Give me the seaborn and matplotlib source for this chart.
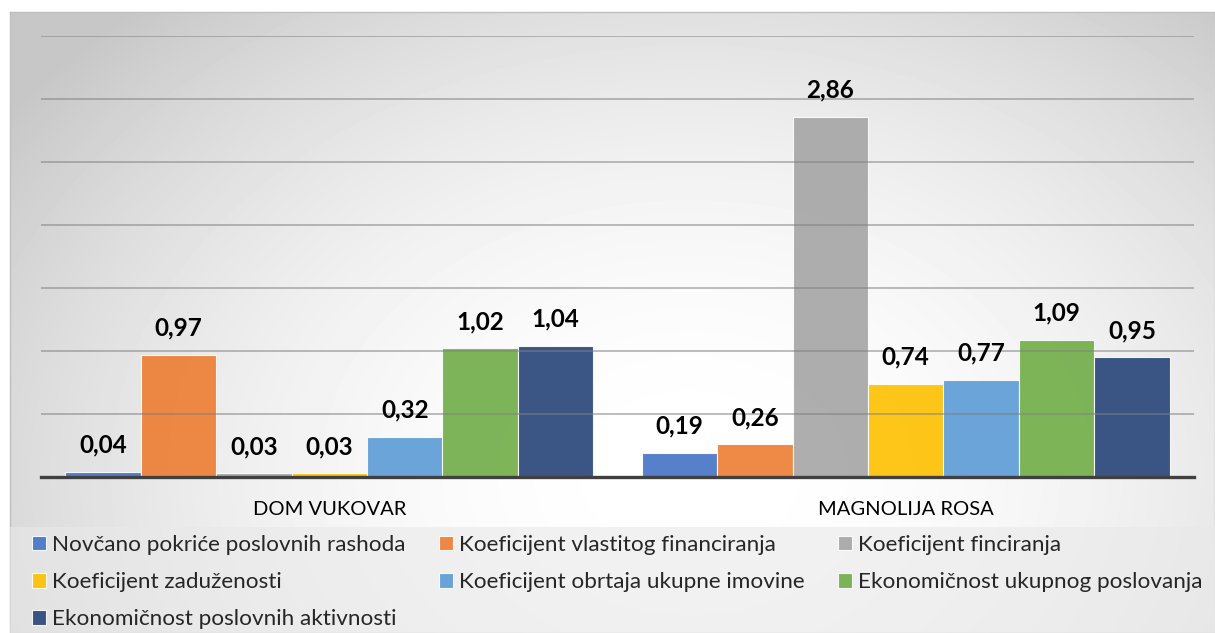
#-------------------------------------------
# Grouped bar chart of financial ratios
# for DOM VUKOVAR and MAGNOLIJA ROSA
#-------------------------------------------

import numpy as np
import pandas as pd
import matplotlib
matplotlib.use("Agg")
import matplotlib.pyplot as plt
import seaborn as sns
from matplotlib.patches import Rectangle

# Data

companies = ["DOM VUKOVAR", "MAGNOLIJA ROSA"]

series = ["Novčano pokriće poslovnih rashoda",
          "Koeficijent vlastitog financiranja",
          "Koeficijent finciranja",
          "Koeficijent zaduženosti",
          "Koeficijent obrtaja ukupne imovine",
          "Ekonomičnost ukupnog poslovanja",
          "Ekonomičnost poslovnih aktivnosti"]

dom_vukovar = [0.04, 0.97, 0.03, 0.03, 0.32, 1.02, 1.04]
magnolija_rosa = [0.19, 0.26, 2.86, 0.74, 0.77, 1.09, 0.95]

colours = ["#4472C4", "#ED7D31", "#A5A5A5", "#FFC000", "#5B9BD5", "#70AD47", "#264478"]

df = pd.DataFrame({
    "company": [companies[0]] * len(series) + [companies[1]] * len(series),
    "indicator": series + series,
    "value": dom_vukovar + magnolija_rosa,
})

#-----------------------PLOTTING-------------------------------

sns.set_style("white")
plt.rcParams["font.family"] = ["Lato", "DejaVu Sans"]

W, H = 1215, 633
fig = plt.figure(figsize=(W / 100, H / 100), dpi=100, facecolor="white")

# Radial grey-to-white background behind the whole chart area

bg = fig.add_axes([10 / W, 0, 1 - 10 / W, 1 - 12 / H])
gh, gw = 621, 1205
yy, xx = np.mgrid[0:gh, 0:gw]
d = np.sqrt(((xx - 680) / 760.0) ** 2 + ((yy - 460) / 560.0) ** 2)
shade = 255 - 56 * (np.clip(d, 0, 1.1) / 1.1) ** 2.0
bg.imshow(shade, cmap="gray", vmin=0, vmax=255, aspect="auto", interpolation="bilinear")
bg.set_xticks([])
bg.set_yticks([])
for s in bg.spines.values():
    s.set_color("#bfbfbf")
    s.set_linewidth(1.0)

# Legend band at the bottom

fig.patches.append(Rectangle((10 / W, 0), 1 - 10 / W, (H - 527) / H, transform=fig.transFigure,
                             facecolor="#e9e9e9", alpha=0.6, edgecolor="none", zorder=1))

ax = fig.add_axes([41 / W, 1 - 477 / H, (1194 - 41) / W, (477 - 36) / H])
ax.patch.set_alpha(0)

sns.barplot(data=df, x="company", y="value", hue="indicator", hue_order=series,
            palette=colours, width=0.916, gap=0, saturation=1, alpha=0.9,
            edgecolor=(1, 1, 1, 0.6), linewidth=0.8, ax=ax)

for cont in ax.containers:
    ax.bar_label(cont, fmt=lambda v: f"{v:.2f}".replace(".", ","), padding=11,
                 fontsize=17.5, fontweight="bold", color="black")

ax.set_ylim(0, 3.5)
ax.set_xlim(-0.5, 1.5)
ax.set_yticks(np.arange(0.5, 3.51, 0.5))
ax.set_yticklabels([])
ax.tick_params(axis="y", length=0)
ax.tick_params(axis="x", length=0, pad=17, labelsize=14.5, labelcolor="black")
ax.set_axisbelow(False)
ax.grid(axis="y", color="#7f7f7f", alpha=0.6, linewidth=1.2)
ax.set_xlabel("")
ax.set_ylabel("")
for side in ["top", "left", "right"]:
    ax.spines[side].set_visible(False)
ax.spines["bottom"].set_color("#404040")
ax.spines["bottom"].set_linewidth(2.4)

handles, labels = ax.get_legend_handles_labels()
ax.get_legend().remove()
order = [0, 3, 6, 1, 4, 2, 5]
leg = fig.legend([handles[i] for i in order], [labels[i] for i in order],
                 ncol=3, loc="upper left", bbox_to_anchor=(32 / W, 1 - 535 / H),
                 frameon=False, fontsize=16.2, handlelength=0.63, handleheight=0.63,
                 handletextpad=0.25, columnspacing=1.5, labelspacing=0.76,
                 borderaxespad=0, borderpad=0)

plt.savefig("out.png", dpi=100, facecolor="white")
